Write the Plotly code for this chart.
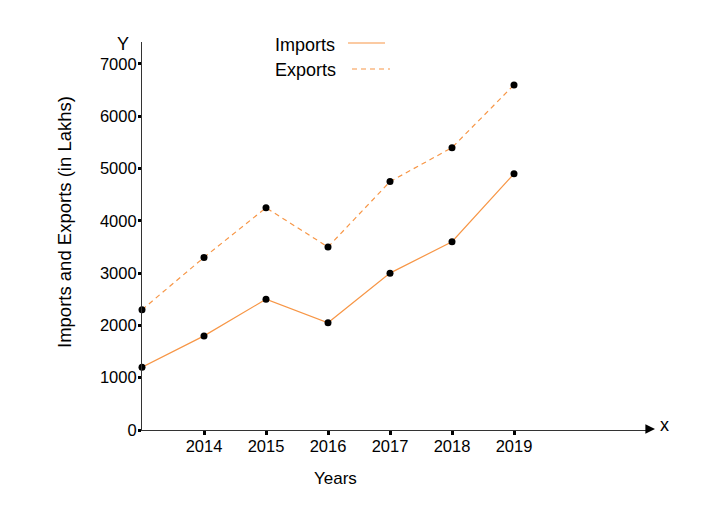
import plotly.graph_objects as go

years = [2013, 2014, 2015, 2016, 2017, 2018, 2019]
imports = [1200, 1800, 2500, 2050, 3000, 3600, 4900]
exports = [2300, 3300, 4250, 3500, 4750, 5400, 6600]
x_tick_labels = ["2014", "2015", "2016", "2017", "2018", "2019"]
y_ticks = [0, 1000, 2000, 3000, 4000, 5000, 6000, 7000]

ORANGE = "#F79646"
FONT = "Liberation Sans, Arial, sans-serif"
OFF = 8  # page body margin
W, H = 705, 504
L, R, T, B = 134, 65, 34, 82
pw = W - L - R
ph = H - T - B

fig = go.Figure()
fig.add_trace(go.Scatter(x=years, y=imports, mode="lines+markers", name="Imports",
                         line=dict(color=ORANGE, width=1.2),
                         marker=dict(color="black", size=7), cliponaxis=False))
fig.add_trace(go.Scatter(x=years, y=exports, mode="lines+markers", name="Exports",
                         line=dict(color=ORANGE, width=1.2, dash="5px,4px"),
                         marker=dict(color="black", size=7), cliponaxis=False))

fig.update_layout(
    width=W, height=H,
    margin=dict(l=L, r=R, t=T, b=B, pad=0),
    paper_bgcolor="white", plot_bgcolor="white",
    showlegend=False,
    font=dict(family=FONT, size=16, color="black"),
    xaxis=dict(range=[2013, 2013 + pw / 62.0], tickvals=[int(v) for v in x_tick_labels],
               ticktext=x_tick_labels, showgrid=False, zeroline=False,
               showline=True, linecolor="#333", linewidth=1.2,
               ticks="outside", ticklen=4, tickwidth=3, tickcolor="black",
               ticklabelstandoff=-3,
               tickfont=dict(size=16.5, family=FONT)),
    yaxis=dict(range=[0, 7420], tickvals=y_ticks, ticktext=[str(v) for v in y_ticks],
               showgrid=False, zeroline=False, showline=True, linecolor="#333", linewidth=1.2,
               ticks="outside", ticklen=3, tickwidth=3, tickcolor="black",
               ticklabelstandoff=-2,
               tickfont=dict(size=16.5, family=FONT)),
)


def px(x):
    return (x - OFF - L) / pw


def py(y):
    return (OFF + H - B - y) / ph


ann = [
    dict(text="Imports and Exports (in Lakhs)", x=px(64), y=py(222), textangle=-90, size=18.5),
    dict(text="Years", x=px(335), y=py(478), size=17),
    dict(text="Y", x=px(123), y=py(44), size=18),
    dict(text="x", x=px(664), y=py(425), size=18),
    dict(text="Imports", x=px(273), y=py(45), xanchor="left", size=18),
    dict(text="Exports", x=px(273), y=py(70), xanchor="left", size=18),
]
for a in ann:
    size = a.pop("size")
    a.setdefault("xanchor", "center")
    fig.add_annotation(xref="paper", yref="paper", yanchor="middle", showarrow=False,
                       font=dict(size=size, family=FONT, color="black"), **a)

# arrowhead at the end of the x axis
fig.add_annotation(xref="paper", yref="paper", x=px(655), y=py(429), ax=-10, ay=0,
                   showarrow=True, arrowhead=2, arrowsize=1.6, arrowwidth=1.2,
                   arrowcolor="black", text="")

# legend samples
fig.add_shape(type="line", xref="paper", yref="paper", x0=px(348), x1=px(385),
              y0=py(43), y1=py(43), line=dict(color=ORANGE, width=1.2))
fig.add_shape(type="line", xref="paper", yref="paper", x0=px(352), x1=px(390),
              y0=py(69), y1=py(69), line=dict(color=ORANGE, width=1.2, dash="5px,4px"))

fig.write_html("out.html")
